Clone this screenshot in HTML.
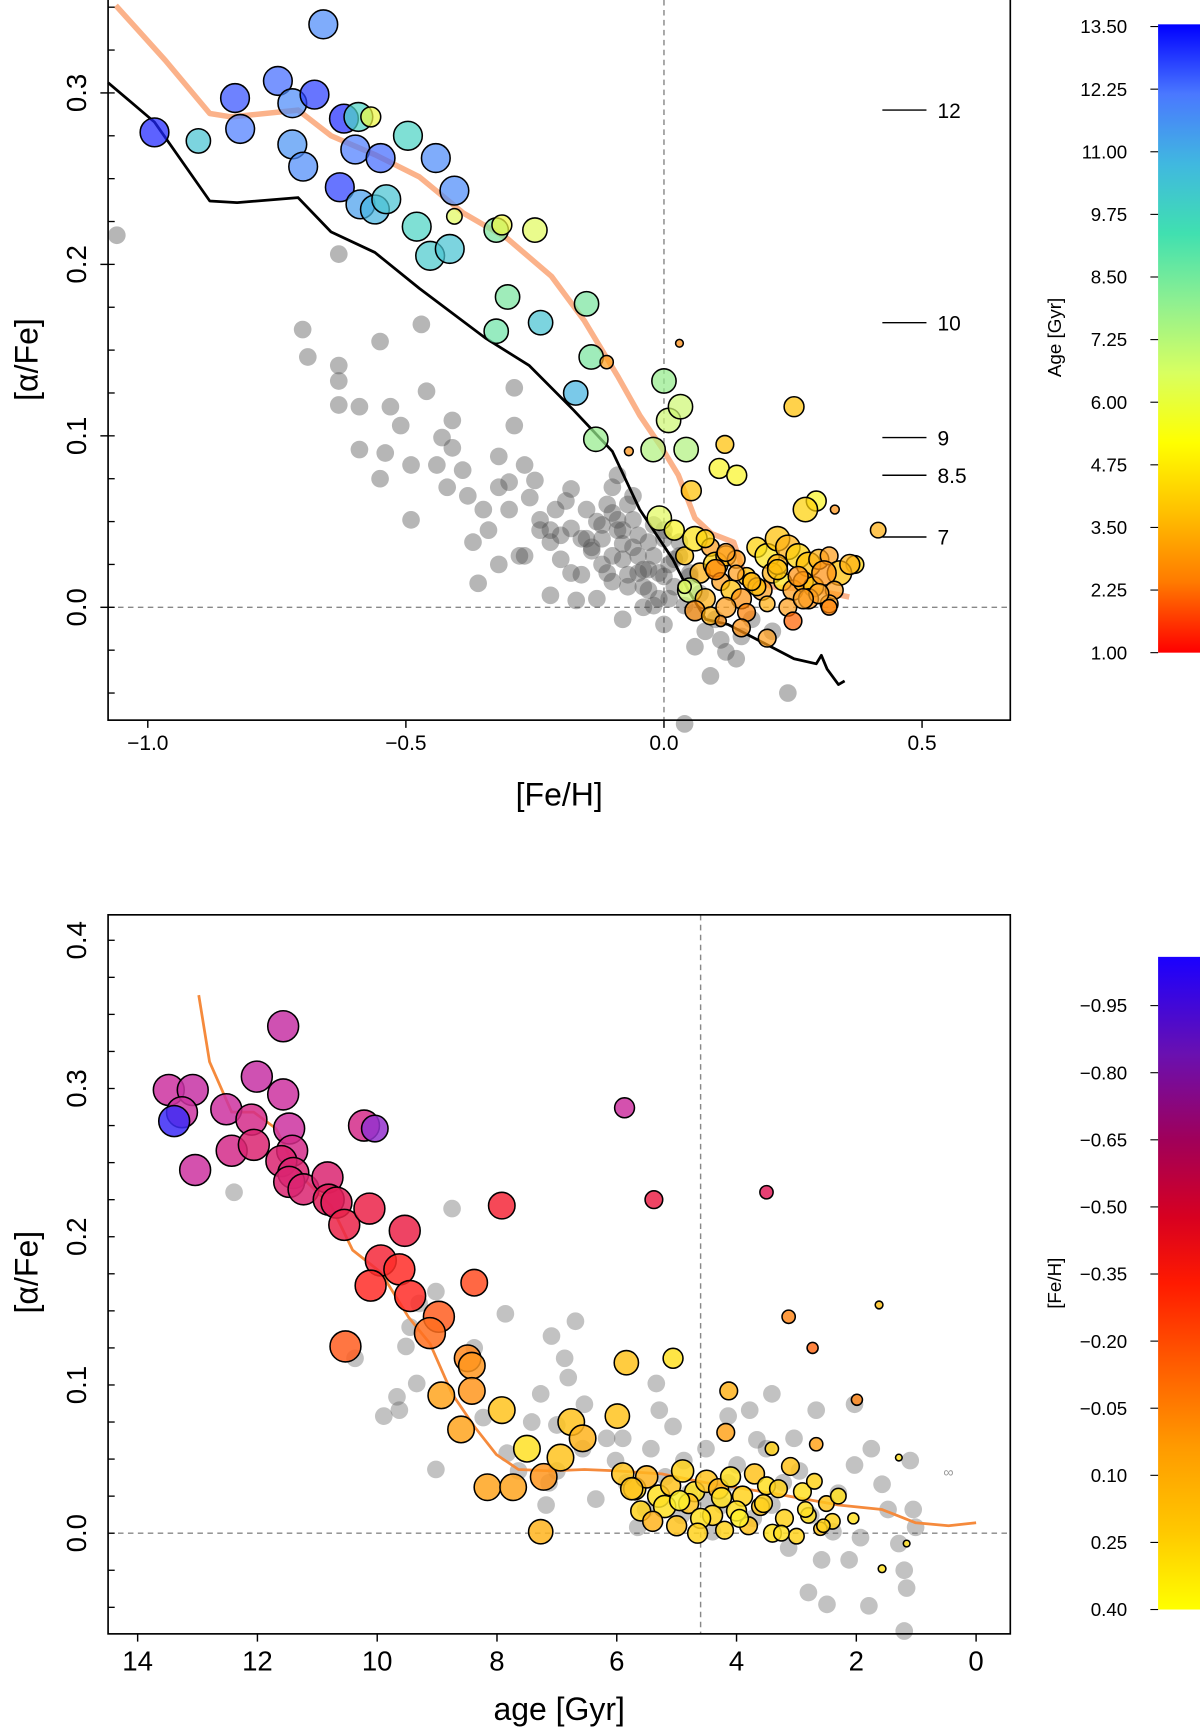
<!DOCTYPE html>
<html><head><meta charset="utf-8"><style>
html,body{margin:0;padding:0;background:#fff;}
svg{display:block;font-family:"Liberation Sans",Arial,sans-serif;}
</style></head><body>
<svg id="fig" width="1200" height="1729" viewBox="0 0 1088 1563" preserveAspectRatio="none" xmlns="http://www.w3.org/2000/svg">
<defs>
<linearGradient id="ageGrad" x1="0" y1="0" x2="0" y2="1">
<stop offset="0" stop-color="#0000ff"/><stop offset="0.111" stop-color="#4a78ff"/><stop offset="0.222" stop-color="#40b8e0"/><stop offset="0.333" stop-color="#40e0b0"/><stop offset="0.444" stop-color="#90f090"/><stop offset="0.555" stop-color="#d8ff60"/><stop offset="0.666" stop-color="#ffff00"/><stop offset="0.777" stop-color="#ffc000"/><stop offset="0.888" stop-color="#ff7a00"/><stop offset="1" stop-color="#ff0000"/>
</linearGradient>
<linearGradient id="fehGrad" x1="0" y1="0" x2="0" y2="1">
<stop offset="0" stop-color="#1a00ff"/><stop offset="0.15" stop-color="#6a10b0"/><stop offset="0.28" stop-color="#a0005a"/><stop offset="0.4" stop-color="#d80020"/><stop offset="0.5" stop-color="#ff1a00"/><stop offset="0.62" stop-color="#ff5a00"/><stop offset="0.75" stop-color="#ff9a00"/><stop offset="0.88" stop-color="#ffc800"/><stop offset="1" stop-color="#ffff00"/>
</linearGradient>
</defs>
<g id="top"></g>
<g id="bot"></g>
</svg>
<script>
// ---------- TOP PANEL DATA ----------
const topGreyFeh=[-1.06,-0.63,-0.70,-0.69,-0.63,-0.63,-0.63,-0.59,-0.55,-0.47,-0.53,-0.51,-0.59,-0.54,-0.55,-0.49,-0.46,-0.41,-0.43,-0.49,-0.44,-0.41,-0.39,-0.42,-0.38,-0.37,-0.36,-0.35,-0.32,-0.32,-0.29,-0.29,-0.30,-0.27,-0.30,-0.26,-0.24,-0.22,-0.22,-0.25,-0.21,-0.20,-0.18,-0.18,-0.16,-0.15,-0.14,-0.12,-0.12,-0.10,-0.09,-0.09,-0.08,-0.08,-0.07,-0.06,-0.05,-0.04,-0.03,-0.02,0.00,0.01,0.02,0.04,0.04,0.06,0.08,0.10,0.12,0.11,0.15,0.17,0.21,0.24,-0.13,-0.10,-0.17,-0.28,-0.32,-0.20,-0.05,0.00,-0.01,0.03,0.06,0.14,0.09,-0.11,-0.19,-0.24,-0.15,-0.06,-0.03,0.05,-0.08,
-0.12,-0.10,-0.08,-0.06,-0.04,-0.02,0.00,0.02,-0.11,-0.09,-0.07,-0.05,-0.03,-0.01,0.01,-0.14,-0.13,-0.16,-0.04,-0.02,0.03,0.05,0.07,-0.07,-0.10,0.00,-0.18,-0.22,-0.27,-0.34];
const topGreyAlpha=[0.217,0.206,0.162,0.146,0.141,0.132,0.118,0.117,0.155,0.165,0.117,0.106,0.092,0.090,0.075,0.051,0.126,0.109,0.099,0.083,0.083,0.093,0.080,0.070,0.065,0.038,0.014,0.057,0.070,0.088,0.106,0.128,0.073,0.083,0.057,0.064,0.051,0.038,0.007,0.074,0.057,0.028,0.046,0.069,0.019,0.057,0.033,0.048,0.025,0.070,0.077,0.051,0.037,-0.007,0.019,0.051,0.030,0.012,0.038,0.001,-0.010,0.025,0.012,0.001,-0.068,-0.023,-0.014,-0.007,-0.026,-0.019,-0.017,-0.007,-0.014,-0.050,0.005,0.015,0.004,0.030,0.025,0.042,0.020,0.040,0.005,0.030,-0.003,-0.030,-0.040,0.060,0.062,0.045,0.040,0.065,0.022,0.018,0.045,
0.040,0.030,0.028,0.035,0.022,0.030,0.018,0.028,0.020,0.045,0.012,0.042,0.010,0.020,0.005,0.035,0.050,0.040,0.000,0.048,0.038,0.020,0.008,0.060,0.055,0.045,0.020,0.045,0.030,0.045];
const topFeh=[-0.987,-0.902,-0.831,-0.821,-0.748,-0.720,-0.677,-0.660,-0.720,-0.699,-0.628,-0.620,-0.598,-0.592,-0.568,-0.549,-0.588,-0.560,-0.538,-0.496,-0.442,-0.406,-0.479,-0.453,-0.415,-0.406,-0.325,-0.314,-0.250,-0.303,-0.325,-0.239,-0.150,-0.141,-0.171,-0.132,-0.111,-0.021,0.000,0.009,0.032,0.043,0.030,-0.068,-0.009,0.053,0.118,0.107,0.141,0.252,0.295,0.274,0.331,0.415,0.370,
0.02,0.04,0.06,0.07,0.09,0.10,0.12,0.14,0.16,0.18,0.20,0.22,0.24,0.26,0.28,0.30,0.32,0.34,0.36,0.05,0.08,0.11,0.13,0.15,0.17,0.19,0.21,0.23,0.25,0.27,0.29,0.31,0.33,0.06,0.09,0.12,0.16,0.20,0.24,0.28,0.32,0.10,0.14,0.18,0.22,0.26,0.30,0.08,0.12,0.17,0.22,0.27,0.15,0.25,0.20,0.32,0.04,0.11];
const topAlpha=[0.277,0.272,0.297,0.279,0.307,0.294,0.299,0.340,0.270,0.257,0.245,0.285,0.267,0.286,0.286,0.262,0.235,0.232,0.238,0.275,0.262,0.243,0.222,0.205,0.209,0.228,0.220,0.223,0.220,0.181,0.161,0.166,0.177,0.146,0.125,0.098,0.143,0.092,0.132,0.109,0.117,0.092,0.154,0.091,0.052,0.068,0.095,0.081,0.077,0.117,0.062,0.057,0.057,0.045,0.025,
0.045,0.030,0.040,0.020,0.035,0.025,0.030,0.028,0.018,0.035,0.030,0.040,0.035,0.030,0.025,0.028,0.030,0.020,0.025,0.010,0.005,0.015,0.010,0.005,0.015,0.010,0.020,0.015,0.010,0.015,0.012,0.020,0.010,-0.002,-0.005,0.000,-0.003,0.002,0.000,0.005,0.002,0.022,0.020,0.012,0.025,0.018,0.008,0.040,0.032,0.015,0.022,0.005,-0.012,-0.008,-0.018,0.000,0.012,-0.008];
const topAge=[13.3,10.5,12.8,12.3,12.5,12.0,13.0,12.0,11.8,12.0,13.0,13.2,12.3,10.0,6.5,12.5,11.5,11.0,10.5,10.0,12.0,12.0,10.0,10.3,10.5,7.0,9.0,6.5,7.0,9.0,9.2,10.5,9.0,9.0,11.0,8.5,3.5,8.0,8.5,7.5,7.5,8.0,2.8,3.0,7.0,4.5,4.5,6.0,6.0,4.5,6.0,5.0,3.0,4.0,5.0,
6.0,4.5,5.5,4.0,3.5,5.0,4.0,3.5,4.5,5.0,5.5,4.5,4.0,5.0,4.5,4.0,3.5,4.5,4.0,7.5,4.0,3.5,4.5,3.0,5.0,3.5,4.0,5.5,3.5,4.0,4.5,3.0,3.5,3.0,4.0,3.5,2.5,4.0,3.5,3.0,3.5,2.5,3.5,4.5,4.0,3.0,3.5,5.0,3.5,4.0,4.5,3.5,3.0,2.0,3.5,2.5,7.0,3.0];
const topSize=[13,11,13,13,13,13,13,13,13,13,13,13,13,13,9,13,13,13,13,13,13,13,13,13,13,7,11,9,11,11,11,11,11,11,11,11,6,11,11,11,11,11,3.5,4,11,9,8,9,9,9,9,11,4,7,8,
9,8,11,9,8,11,9,8,8,9,11,11,11,11,11,9,8,11,9,11,9,8,9,9,8,9,9,8,9,9,9,11,8,9,8,9,8,7,8,9,8,9,7,8,9,9,9,8,8,8,9,9,8,8,8,7,6,5,6,4,11,6];
const blackFeh=[-1.077,-0.987,-0.880,-0.827,-0.709,-0.645,-0.560,-0.474,-0.346,-0.261,-0.175,-0.100,-0.047,0.017,0.049,0.081,0.124,0.188,0.252,0.295,0.305,0.316,0.338,0.350];
const blackAlpha=[0.306,0.283,0.237,0.236,0.239,0.219,0.207,0.186,0.157,0.141,0.115,0.091,0.057,0.028,0.009,-0.007,-0.010,-0.020,-0.030,-0.033,-0.028,-0.036,-0.045,-0.043];
const orangeFeh=[-1.062,-0.966,-0.880,-0.838,-0.709,-0.645,-0.560,-0.474,-0.389,-0.303,-0.218,-0.154,-0.090,-0.047,-0.004,0.028,0.060,0.092,0.135,0.156,0.209,0.295,0.359];
const orangeAlpha=[0.351,0.319,0.288,0.286,0.290,0.275,0.264,0.251,0.230,0.215,0.193,0.167,0.135,0.112,0.093,0.077,0.052,0.043,0.038,0.019,0.012,0.010,0.006];
const isoLabels=["12","10","9","8.5","7"];
const isoAlpha=[0.290,0.166,0.099,0.077,0.041];
const topXTicks=[-1.0,-0.5,0.0,0.5];
const topXTickLabels=["\u22121.0","\u22120.5","0.0","0.5"];
const topYTicks=[0.0,0.1,0.2,0.3];
const ageBarLabels=["13.50","12.25","11.00","9.75","8.50","7.25","6.00","4.75","3.50","2.25","1.00"];

// ---------- BOTTOM PANEL DATA ----------
const botGreyAge=[12.39,8.75,7.86,9.02,9.30,9.45,9.52,10.37,9.34,9.67,9.89,9.63,9.02,8.38,8.23,7.83,7.64,7.13,7.00,6.87,6.69,7.09,6.81,7.27,7.42,7.18,7.00,6.54,6.57,6.35,6.17,6.02,5.84,5.65,5.43,5.34,5.29,5.06,5.19,4.88,4.79,4.51,4.40,4.14,3.99,3.78,3.66,3.50,3.41,3.22,3.13,2.95,2.76,2.58,2.49,2.30,2.03,1.93,2.03,1.79,1.75,1.57,1.47,1.29,1.20,1.16,1.10,1.05,1.01,1.20,3.72,4.24,4.92,5.52,5.90,2.12,2.80,2.39,3.04,2.67,4.14,4.51,3.41];
const botGreyAlpha=[0.230,0.219,0.148,0.163,0.155,0.139,0.126,0.118,0.101,0.092,0.079,0.083,0.043,0.125,0.078,0.054,0.042,0.034,0.073,0.118,0.143,0.133,0.105,0.094,0.075,0.019,0.042,0.087,0.057,0.023,0.064,0.049,0.034,0.004,0.057,0.101,0.083,0.072,0.038,0.049,0.027,0.057,0.001,0.034,0.046,0.083,0.063,0.057,0.019,0.034,-0.010,0.042,0.012,-0.018,-0.048,0.027,0.046,-0.003,0.087,-0.049,0.057,0.033,0.016,-0.007,-0.025,-0.037,0.049,0.016,0.004,-0.066,0.010,0.019,0.012,0.016,0.064,-0.018,-0.040,0.001,0.064,0.083,0.079,0.023,0.094];
const botAge=[13.48,13.08,13.26,13.39,13.04,12.52,12.01,11.57,11.57,12.10,12.43,12.06,11.47,11.42,11.60,11.40,11.47,11.23,10.83,10.81,10.68,10.22,10.04,10.55,10.13,9.54,9.94,9.63,10.11,9.45,8.97,9.12,8.38,7.92,10.53,8.49,8.42,8.93,8.42,8.60,7.92,8.16,7.73,7.50,7.22,6.76,6.94,6.57,7.27,5.84,5.99,5.06,5.87,5.38,3.50,4.13,3.13,2.73,1.99,1.62,2.67,4.18,3.41,1.57,1.29,1.16,
5.9,5.7,5.5,5.3,5.1,4.9,4.7,4.5,4.3,4.1,3.9,3.7,3.5,3.3,3.1,2.9,2.7,2.5,2.3,5.6,5.2,4.8,4.4,4.0,3.6,3.2,2.8,2.4,5.4,5.0,4.6,4.2,3.8,3.4,3.0,2.6,4.95,4.25,3.55,2.85,3.95,3.25,2.55,2.05,5.75,4.65];
const botAlpha=[0.299,0.299,0.284,0.278,0.245,0.286,0.308,0.342,0.296,0.279,0.258,0.262,0.273,0.258,0.251,0.243,0.237,0.232,0.240,0.225,0.223,0.275,0.273,0.208,0.219,0.204,0.184,0.178,0.167,0.160,0.146,0.135,0.169,0.221,0.126,0.118,0.113,0.093,0.096,0.070,0.083,0.031,0.031,0.057,0.038,0.075,0.051,0.064,0.001,0.115,0.079,0.118,0.287,0.225,0.230,0.096,0.146,0.125,0.090,0.154,0.060,0.068,0.057,-0.024,0.051,-0.007,
0.040,0.030,0.038,0.025,0.032,0.042,0.028,0.035,0.030,0.038,0.025,0.040,0.032,0.030,0.045,0.028,0.035,0.020,0.025,0.015,0.018,0.020,0.012,0.015,0.018,0.010,0.012,0.008,0.008,0.005,0.010,0.002,0.005,0.000,-0.002,0.003,0.022,0.024,0.020,0.016,0.010,0.000,0.005,0.010,0.030,0.000];
const botFeh=[-0.6,-0.62,-0.6,-1.0,-0.6,-0.6,-0.62,-0.62,-0.6,-0.55,-0.55,-0.5,-0.6,-0.55,-0.5,-0.5,-0.5,-0.5,-0.5,-0.45,-0.45,-0.55,-0.78,-0.4,-0.4,-0.4,-0.35,-0.3,-0.3,-0.3,-0.15,-0.1,-0.2,-0.35,-0.15,0.0,0.05,0.1,0.05,0.1,0.2,0.1,0.1,0.3,0.05,0.2,0.2,0.15,0.15,0.2,0.2,0.3,-0.6,-0.4,-0.45,0.15,0.0,-0.1,0.0,0.2,0.1,0.1,0.25,0.3,0.3,0.3,
0.2,0.25,0.15,0.3,0.2,0.25,0.3,0.2,0.15,0.3,0.25,0.2,0.3,0.25,0.2,0.3,0.25,0.2,0.3,0.25,0.3,0.2,0.25,0.3,0.2,0.25,0.3,0.25,0.15,0.2,0.3,0.25,0.2,0.3,0.25,0.2,0.35,0.3,0.25,0.3,0.35,0.3,0.25,0.3,0.2,0.25];
const botSize=[14,14,14,14,14,14,14,14,14,14,14,14,14,14,14,14,14,14,14,14,14,14,12,14,14,14,14,14,14,14,14,14,12,12,14,12,12,12,12,12,12,12,12,12,12,12,12,12,11,11,11,9,9,8,6,8,6,5,5,3.5,6,8,6,3.5,3,3,
10,10,10,10,9,10,9,10,9,9,9,9,8,8,8,8,7,7,7,9,10,9,9,9,8,8,7,7,9,9,9,8,8,8,7,6,9,9,8,7,8,7,6,5,10,9];
const botOrangeAge=[12.98,12.80,12.43,12.06,11.69,11.33,10.77,10.41,9.94,9.48,9.12,8.75,8.38,8.01,7.64,7.09,6.54,5.99,5.25,4.51,3.41,2.30,1.57,1.01,0.46,0.0];
const botOrangeAlpha=[0.363,0.318,0.284,0.284,0.273,0.243,0.221,0.191,0.176,0.146,0.128,0.094,0.072,0.053,0.043,0.042,0.043,0.042,0.040,0.034,0.027,0.019,0.016,0.007,0.005,0.007];
const botXTicks=[14,12,10,8,6,4,2,0];
const botYTicks=[0.0,0.1,0.2,0.3,0.4];
const fehBarLabels=["\u22120.95","\u22120.80","\u22120.65","\u22120.50","\u22120.35","\u22120.20","\u22120.05","0.10","0.25","0.40"];
const fehBarValues=[-0.95,-0.80,-0.65,-0.50,-0.35,-0.20,-0.05,0.10,0.25,0.40];

// ---------- helpers ----------
const NS="http://www.w3.org/2000/svg";
function mk(parent,tag,attrs,text){const e=document.createElementNS(NS,tag);for(const k in attrs)e.setAttribute(k,attrs[k]);if(text!==undefined)e.textContent=text;parent.appendChild(e);return e;}
function lerpColor(stops,cols,v){
  if(v<=stops[0])return `rgb(${cols[0].join(',')})`;if(v>=stops[stops.length-1])return `rgb(${cols[cols.length-1].join(',')})`;
  for(let i=0;i<stops.length-1;i++){if(v>=stops[i]&&v<=stops[i+1]){const t=(v-stops[i])/(stops[i+1]-stops[i]);const a=cols[i],b=cols[i+1];return `rgb(${Math.round(a[0]+(b[0]-a[0])*t)},${Math.round(a[1]+(b[1]-a[1])*t)},${Math.round(a[2]+(b[2]-a[2])*t)})`;}}
}
const ageStops=[1,2.25,3.5,4.75,6,7.25,8.5,9.75,11,12.25,13.5];
const ageCols=[[255,0,0],[255,122,0],[255,160,30],[255,200,0],[250,245,40],[220,250,110],[150,235,140],[80,220,190],[70,180,225],[80,130,255],[20,20,255]];
const fehStops=[-1.05,-0.75,-0.6,-0.45,-0.3,-0.1,0.1,0.25,0.4];
const fehCols=[[40,40,255],[160,50,200],[205,50,160],[225,30,90],[255,45,40],[255,110,30],[255,165,30],[255,210,30],[255,255,50]];

// ---------- TOP PANEL ----------
const T=document.getElementById('top');
const tx=v=>602+v*468, ty=v=>549-v*1550;
const tL=98,tR=916,tT=0,tB=651;
let e;
e=mk(T,'line',{x1:tx(0),y1:tT,x2:tx(0),y2:tB,stroke:'#888','stroke-width':1.3,'stroke-dasharray':'5,4'});

e=mk(T,'line',{x1:tL,y1:ty(0),x2:tR,y2:ty(0),stroke:'#888','stroke-width':1.3,'stroke-dasharray':'5,4'});

const gGreyT=mk(T,'g',{});
for(let i=0;i<topGreyFeh.length;i++){e=mk(gGreyT,'circle',{cx:tx(topGreyFeh[i]),cy:ty(topGreyAlpha[i]),r:8,fill:'#505050','fill-opacity':0.42});
}
function path(xs,ys,fx,fy){return xs.map((v,i)=>(i?'L':'M')+fx(v).toFixed(1)+','+fy(ys[i]).toFixed(1)).join(' ');}
e=mk(T,'path',{d:path(orangeFeh,orangeAlpha,tx,ty),fill:'none',stroke:'#fbb28a','stroke-width':5,'stroke-linejoin':'round'});

e=mk(T,'path',{d:path(blackFeh,blackAlpha,tx,ty),fill:'none',stroke:'#000','stroke-width':2.5,'stroke-linejoin':'round'});

const gColT=mk(T,'g',{});
for(let i=0;i<topFeh.length;i++){e=mk(gColT,'circle',{cx:tx(topFeh[i]),cy:ty(topAlpha[i]),r:topSize[i],fill:lerpColor(ageStops,ageCols,topAge[i]),'fill-opacity':0.72,stroke:'#000','stroke-width':1.4});
}
for(let i=0;i<isoLabels.length;i++){
 e=mk(T,'line',{x1:800,y1:ty(isoAlpha[i]),x2:840,y2:ty(isoAlpha[i]),stroke:'#000','stroke-width':1.3});
 
 e=mk(T,'text',{x:850,y:ty(isoAlpha[i])+7,'font-size':19},isoLabels[i]);
 
}
e=mk(T,'rect',{x:tL,y:tT-2,width:tR-tL,height:tB-tT+2,fill:'none',stroke:'#000','stroke-width':1.5});

for(let i=0;i<topXTicks.length;i++){
 e=mk(T,'line',{x1:tx(topXTicks[i]),y1:tB,x2:tx(topXTicks[i]),y2:tB+7,stroke:'#000','stroke-width':1.3});
 
 e=mk(T,'text',{x:tx(topXTicks[i]),y:678,'font-size':19,'text-anchor':'middle'},topXTickLabels[i]);
 
}
for(let v=-0.05;v<=0.351;v+=0.025){const y=ty(v);if(y<tT||y>tB)continue;
 e=mk(T,'line',{x1:tL,y1:y,x2:tL+6,y2:y,stroke:'#000','stroke-width':1.2});
 }
for(let i=0;i<topYTicks.length;i++){const y=ty(topYTicks[i]);
 e=mk(T,'line',{x1:tL,y1:y,x2:tL-7,y2:y,stroke:'#000','stroke-width':1.3});
 
 e=mk(T,'text',{x:78,y:y,'font-size':25,'text-anchor':'middle',transform:`rotate(-90 78 ${y})`},topYTicks[i].toFixed(1));
 
}
e=mk(T,'text',{x:507,y:728,'font-size':29,'text-anchor':'middle'},'[Fe/H]');

e=mk(T,'text',{x:34,y:325,'font-size':29,'text-anchor':'middle',transform:'rotate(-90 34 325)'},'[\u03b1/Fe]');

e=mk(T,'rect',{x:1050,y:22,width:40,height:568,fill:'url(#ageGrad)'});

for(let i=0;i<ageBarLabels.length;i++){const y=24+i*(566/10);
 e=mk(T,'line',{x1:1043,y1:y,x2:1050,y2:y,stroke:'#000','stroke-width':1});
 
 e=mk(T,'text',{x:1022,y:y+6,'font-size':17,'text-anchor':'end'},ageBarLabels[i]);
 }
e=mk(T,'text',{x:962,y:305,'font-size':17,'text-anchor':'middle',transform:'rotate(-90 962 305)'},'Age [Gyr]');


// ---------- BOTTOM PANEL ----------
const B=document.getElementById('bot');
const bx=v=>885-v*54.3, by=v=>1386-v*1340;
const bL=98,bR=916,bT=827,bB=1477;
e=mk(B,'line',{x1:bx(4.6),y1:bT,x2:bx(4.6),y2:bB,stroke:'#888','stroke-width':1.3,'stroke-dasharray':'5,4'});

e=mk(B,'line',{x1:bL,y1:by(0),x2:bR,y2:by(0),stroke:'#888','stroke-width':1.3,'stroke-dasharray':'5,4'});

const gGreyB=mk(B,'g',{});
for(let i=0;i<botGreyAge.length;i++){e=mk(gGreyB,'circle',{cx:bx(botGreyAge[i]),cy:by(botGreyAlpha[i]),r:8,fill:'#555','fill-opacity':0.36});
}
e=mk(B,'path',{d:path(botOrangeAge,botOrangeAlpha,bx,by),fill:'none',stroke:'#f58a3c','stroke-width':2.5,'stroke-linejoin':'round'});

const gColB=mk(B,'g',{});
for(let i=0;i<botAge.length;i++){e=mk(gColB,'circle',{cx:bx(botAge[i]),cy:by(botAlpha[i]),r:botSize[i],fill:lerpColor(fehStops,fehCols,botFeh[i]),'fill-opacity':0.85,stroke:'#000','stroke-width':1.4});
}
e=mk(B,'text',{x:860,y:1335,'font-size':13,fill:'#999','text-anchor':'middle'},'\u221e');

e=mk(B,'rect',{x:bL,y:bT,width:bR-bL,height:bB-bT,fill:'none',stroke:'#000','stroke-width':1.5});

for(let i=0;i<botXTicks.length;i++){const x=bx(botXTicks[i]);
 e=mk(B,'line',{x1:x,y1:bB,x2:x,y2:bB+7,stroke:'#000','stroke-width':1.3});
 
 e=mk(B,'text',{x:x,y:1510,'font-size':25,'text-anchor':'middle'},String(botXTicks[i]));
 }
for(let v=-0.075;v<=0.42;v+=0.025){const y=by(v);if(y<bT||y>bB)continue;
 e=mk(B,'line',{x1:bL,y1:y,x2:bL+6,y2:y,stroke:'#000','stroke-width':1.2});
 }
for(let i=0;i<botYTicks.length;i++){const y=by(botYTicks[i]);
 e=mk(B,'text',{x:78,y:y,'font-size':25,'text-anchor':'middle',transform:`rotate(-90 78 ${y})`},botYTicks[i].toFixed(1));
 }
e=mk(B,'text',{x:507,y:1555,'font-size':29,'text-anchor':'middle'},'age [Gyr]');

e=mk(B,'text',{x:34,y:1150,'font-size':29,'text-anchor':'middle',transform:'rotate(-90 34 1150)'},'[\u03b1/Fe]');

e=mk(B,'rect',{x:1050,y:865,width:40,height:590,fill:'url(#fehGrad)'});

for(let i=0;i<fehBarLabels.length;i++){const y=1455-(0.40-fehBarValues[i])*404.4;
 e=mk(B,'line',{x1:1043,y1:y,x2:1050,y2:y,stroke:'#000','stroke-width':1});
 
 e=mk(B,'text',{x:1022,y:y+6,'font-size':17,'text-anchor':'end'},fehBarLabels[i]);
 }
e=mk(B,'text',{x:962,y:1160,'font-size':17,'text-anchor':'middle',transform:'rotate(-90 962 1160)'},'[Fe/H]');

</script>
</body></html>
